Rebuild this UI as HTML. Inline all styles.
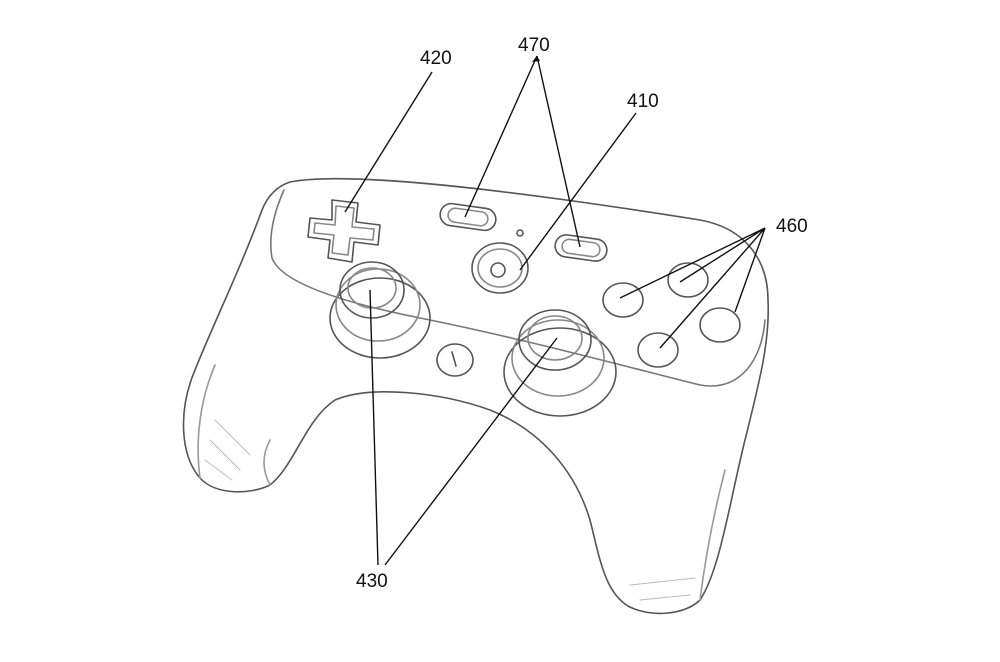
<!DOCTYPE html>
<html><head><meta charset="utf-8"><style>
html,body{margin:0;padding:0;background:#fff;width:1000px;height:662px;overflow:hidden}
svg{display:block}
text{font-family:"Liberation Sans",sans-serif;font-size:19px;fill:#111}
</style></head><body>
<svg width="1000" height="662" viewBox="0 0 1000 662">
<g fill="none" stroke="#555" stroke-width="1.6" stroke-linejoin="round" stroke-linecap="round">
<!-- body outline -->
<path d="M290 182 C340 172 480 185 700 220 C745 228 768 260 768 300 C770 340 760 380 745 440 C730 500 720 570 700 600 C685 615 650 618 628 606 C605 592 600 560 590 520 C575 470 540 430 490 410 C440 392 370 385 335 400 C305 420 295 465 270 485 C250 495 215 495 200 478 C180 455 178 410 195 370 C215 320 240 270 262 210 C268 195 278 186 290 182 Z"/>
<path d="M284 190 C275 210 268 235 272 258 C280 280 330 300 420 318 C520 338 620 365 700 385 C740 392 762 360 765 320" stroke="#777"/>
<path d="M200 478 C195 440 200 400 215 365" stroke="#999"/>
<path d="M700 600 C705 560 712 520 725 470" stroke="#999"/>
<path d="M270 485 C262 470 262 455 270 440" stroke="#999"/>
<!-- hatching hints -->
<path d="M205 460 L232 480 M210 440 L240 470 M215 420 L250 455" stroke="#bbb" stroke-width="1"/>
<path d="M640 600 L690 595 M630 585 L695 578" stroke="#bbb" stroke-width="1"/>
<!-- d-pad -->
<path d="M332 200 L358 203 L356 222 L380 225 L378 245 L354 242 L352 262 L328 258 L330 240 L308 237 L310 218 L332 220 Z"/>
<path d="M336 206 L354 208 L352 227 L374 229 L373 240 L350 238 L348 255 L332 253 L334 235 L314 233 L315 223 L335 225 Z" stroke="#888"/>
<!-- 470 pills -->
<rect x="440" y="206" width="56" height="22" rx="11" transform="rotate(8 468 217)"/>
<rect x="448" y="210" width="40" height="14" rx="7" transform="rotate(8 468 217)" stroke="#888"/>
<rect x="555" y="237" width="52" height="22" rx="11" transform="rotate(8 581 248)"/>
<rect x="562" y="241" width="38" height="14" rx="7" transform="rotate(8 581 248)" stroke="#888"/>
<circle cx="520" cy="233" r="3"/>
<!-- 410 home -->
<ellipse cx="500" cy="268" rx="28" ry="25"/>
<ellipse cx="500" cy="268" rx="22" ry="19" stroke="#888"/>
<circle cx="498" cy="270" r="7"/>
<!-- left stick -->
<ellipse cx="380" cy="318" rx="50" ry="40"/>
<ellipse cx="378" cy="305" rx="42" ry="36" stroke="#888"/>
<ellipse cx="372" cy="290" rx="32" ry="28"/>
<ellipse cx="372" cy="288" rx="24" ry="20" stroke="#888"/>
<!-- right stick -->
<ellipse cx="560" cy="372" rx="56" ry="44"/>
<ellipse cx="558" cy="358" rx="46" ry="38" stroke="#888"/>
<ellipse cx="555" cy="340" rx="36" ry="30"/>
<ellipse cx="555" cy="338" rx="27" ry="22" stroke="#888"/>
<!-- mic -->
<ellipse cx="455" cy="360" rx="18" ry="16"/>
<path d="M452 352 L456 366"/>
<!-- face buttons -->
<ellipse cx="623" cy="300" rx="20" ry="17"/>
<ellipse cx="688" cy="280" rx="20" ry="17"/>
<ellipse cx="658" cy="350" rx="20" ry="17"/>
<ellipse cx="720" cy="325" rx="20" ry="17"/>
</g>
<!-- leaders -->
<g stroke="#111" stroke-width="1.4" fill="none">
<path d="M432 72 L345 212"/>
<path d="M537 56 L465 217 M537 56 L580 247"/>
<path d="M636 113 L520 270"/>
<path d="M765 228 L620 298 M765 228 L680 282 M765 228 L660 348 M765 228 L735 312"/>
<path d="M378 565 L370 290 M385 565 L557 338"/>
</g>
<g fill="#111">
<path d="M537 56 l-5 6 l8 -1 z"/>
</g>
<text x="420" y="64">420</text>
<text x="518" y="51">470</text>
<text x="627" y="107">410</text>
<text x="776" y="232">460</text>
<text x="356" y="587">430</text>
</svg>
</body></html>
